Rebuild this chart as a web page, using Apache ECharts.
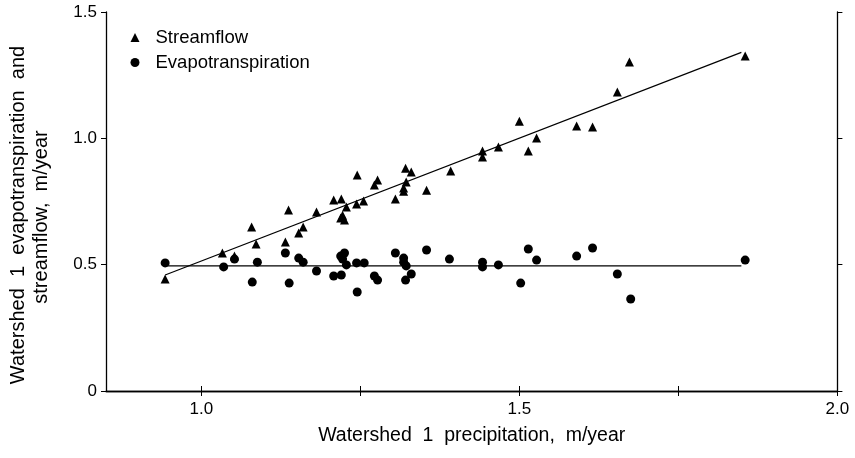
<!DOCTYPE html>
<html>
<head>
<meta charset="utf-8">
<script src="https://cdn.jsdelivr.net/npm/echarts@6/dist/echarts.min.js"></script>
<style>html,body{margin:0;padding:0;background:#fff}#c{width:855px;height:458px}</style>
</head>
<body>
<div id="c"></div>
<script>
// Streamflow (triangles)
const sfPrecip = [0.943,1.033,1.052,1.079,1.086,1.132,1.137,1.153,1.160,1.181,1.208,1.220,1.219,1.222,1.225,1.228,1.244,1.245,1.255,1.272,1.277,1.305,1.318,1.318,1.321,1.322,1.330,1.354,1.392,1.442,1.442,1.467,1.500,1.514,1.527,1.590,1.615,1.654,1.673,1.855];
const sfValues = [0.443,0.546,0.534,0.649,0.582,0.590,0.716,0.625,0.649,0.708,0.756,0.760,0.685,0.696,0.677,0.728,0.740,0.855,0.752,0.815,0.835,0.760,0.803,0.791,0.882,0.827,0.867,0.795,0.871,0.950,0.926,0.966,1.068,0.950,1.001,1.049,1.045,1.183,1.302,1.326];
// Evapotranspiration (circles)
const etPrecip = [0.943,1.035,1.052,1.080,1.088,1.132,1.138,1.153,1.160,1.181,1.208,1.220,1.219,1.225,1.222,1.228,1.244,1.245,1.256,1.272,1.277,1.305,1.318,1.318,1.322,1.330,1.321,1.354,1.390,1.442,1.442,1.467,1.502,1.514,1.527,1.590,1.615,1.654,1.675,1.855];
const etValues = [0.507,0.491,0.522,0.431,0.510,0.546,0.427,0.526,0.510,0.475,0.455,0.459,0.534,0.546,0.522,0.499,0.507,0.392,0.507,0.455,0.439,0.546,0.526,0.510,0.495,0.463,0.439,0.558,0.522,0.510,0.491,0.499,0.427,0.562,0.518,0.534,0.566,0.463,0.364,0.518];
// Fitted lines
const fitX = [0.943, 1.849];
const sfFit = [0.459, 1.340];
const etFit = [0.495, 0.495];
// Axis ticks and titles
const xTicks = [1.0, 1.25, 1.5, 1.75, 2.0];
const xLabels = [1.0, 1.5, 2.0];
const yTicks = [0, 0.5, 1.0, 1.5];
const xTitle = 'Watershed  1  precipitation,  m/year';
const yTitle1 = 'Watershed  1  evapotranspiration  and';
const yTitle2 = 'streamflow,  m/year';

const zip = (a, b) => a.map((v, i) => [v, b[i]]);
const FONT = '"Liberation Sans", Arial, Helvetica, sans-serif';
const chart = echarts.init(document.getElementById('c'), null, {renderer: 'canvas'});
const axLine = {show: true, lineStyle: {color: '#000', width: 1.3}};
const tickStyle = {color: '#000', width: 1};
chart.setOption({
  animation: false,
  backgroundColor: '#fff',
  grid: {left: 106, right: 17.6, top: 12, bottom: 67, containLabel: false},
  legend: {
    orient: 'vertical', left: 125.5, top: 23, itemWidth: 9, itemHeight: 9, itemGap: 6,
    data: ['Streamflow', 'Evapotranspiration'],
    textStyle: {fontFamily: FONT, fontSize: 18.5, color: '#000', padding: [0, 0, 0, 11]}
  },
  graphic: [
    {type: 'text', x: 18, y: 215, rotation: Math.PI / 2,
      style: {text: yTitle1, font: '20px ' + FONT, fill: '#000', align: 'center', verticalAlign: 'middle'}},
    {type: 'text', x: 41, y: 217, rotation: Math.PI / 2,
      style: {text: yTitle2, font: '20px ' + FONT, fill: '#000', align: 'center', verticalAlign: 'middle'}}
  ],
  xAxis: [{
    type: 'value', min: 0.85, max: 2.0, position: 'bottom',
    name: xTitle, nameLocation: 'middle', nameGap: 35,
    nameTextStyle: {fontFamily: FONT, fontSize: 19.5, color: '#000'},
    axisLine: axLine, splitLine: {show: false},
    axisTick: {show: true, inside: false, length: 5, customValues: xTicks, lineStyle: tickStyle},
    axisLabel: {customValues: xLabels, formatter: v => v.toFixed(1), fontFamily: FONT, fontSize: 17, color: '#000', margin: 10}
  }, {
    type: 'value', min: 0.85, max: 2.0, position: 'top',
    axisLine: axLine, splitLine: {show: false},
    axisTick: {show: true, inside: false, length: 5, customValues: xTicks, lineStyle: tickStyle},
    axisLabel: {show: false}
  }],
  yAxis: [{
    type: 'value', min: 0, max: 1.5, position: 'left',
    axisLine: axLine, splitLine: {show: false},
    axisTick: {show: true, inside: false, length: 5, customValues: yTicks, lineStyle: tickStyle},
    axisLabel: {customValues: yTicks, formatter: v => v === 0 ? '0' : v.toFixed(1), fontFamily: FONT, fontSize: 17, color: '#000', margin: 9}
  }, {
    type: 'value', min: 0, max: 1.5, position: 'right',
    axisLine: axLine, splitLine: {show: false},
    axisTick: {show: true, inside: false, length: 5, customValues: yTicks, lineStyle: tickStyle},
    axisLabel: {show: false}
  }],
  series: [
    {name: 'Streamflow', type: 'scatter', symbol: 'triangle', symbolSize: 9, itemStyle: {color: '#000', opacity: 1}, data: zip(sfPrecip, sfValues), z: 3},
    {name: 'Evapotranspiration', type: 'scatter', symbol: 'circle', symbolSize: 9, itemStyle: {color: '#000', opacity: 1}, data: zip(etPrecip, etValues), z: 3},
    {name: 'sfFit', type: 'line', data: zip(fitX, sfFit), symbol: 'none', lineStyle: {color: '#000', width: 1.2}, silent: true, z: 2},
    {name: 'etFit', type: 'line', data: zip(fitX, etFit), symbol: 'none', lineStyle: {color: '#000', width: 1.2}, silent: true, z: 2}
  ]
});
</script>
</body>
</html>
